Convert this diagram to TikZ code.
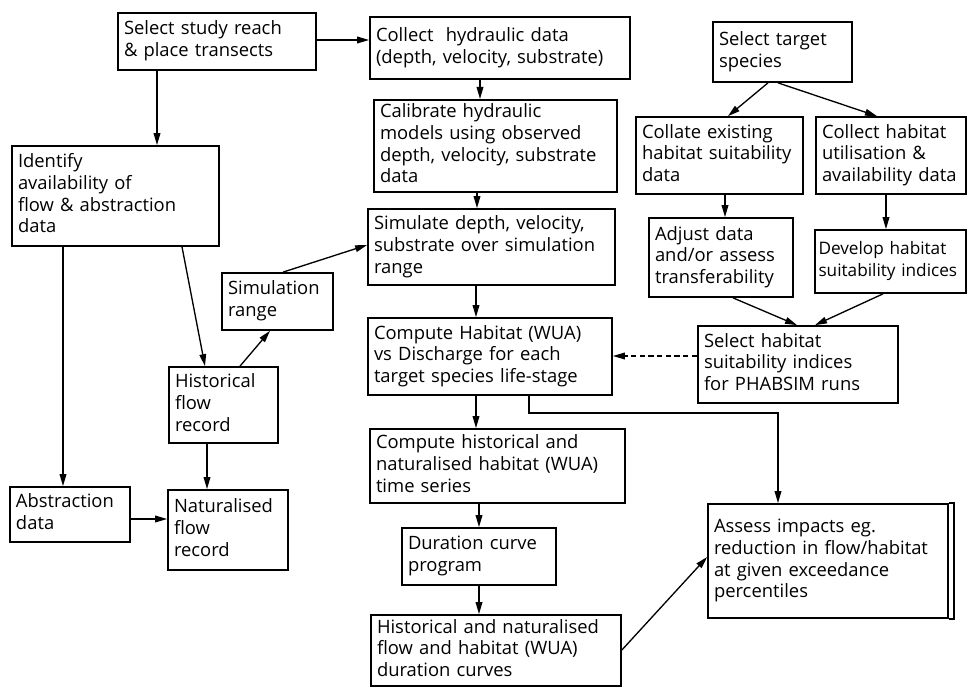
\documentclass[tikz,border=0pt]{standalone}
\usepackage{fontspec}
\setmainfont{Open Sans}
\usetikzlibrary{arrows.meta}
\newcommand\mybox[6]{%
  \pgfmathsetlengthmacro\mytw{(#4-#2)*0.75pt-9pt}%
  \node[box, text width=\mytw, minimum width={(#4-#2)*0.75pt}, minimum height={(#5-#3)*0.75pt}] (#1) at ({(#2+#4)/2},{(#3+#5)/2}) {\begin{tabular}{@{}l@{}}#6\end{tabular}};}
\begin{document}
\begin{tikzpicture}[x=0.75pt,y=-0.75pt,
  box/.style={draw, line width=1.3pt, inner xsep=4.5pt, inner ysep=2pt, align=left,
    font=\fontsize{13.8}{16.3}\selectfont},
  arr/.style={-{Triangle[length=9pt,width=5pt]}, line width=1pt}]
\useasboundingbox (0,0) rectangle (968,688);
% central column
\mybox{study}{118}{13}{316}{70}{Select study reach\\\& place transects}
\mybox{collect}{370}{17}{630}{79}{Collect\ \ hydraulic data\\(depth, velocity, substrate)}
\mybox{calib}{374}{100}{617}{192}{Calibrate hydraulic\\models using observed\\depth, velocity, substrate\\data}
\mybox{simul}{368}{209}{615}{285}{Simulate depth, velocity,\\substrate over simulation\\range}
\mybox{wua}{368}{318}{612}{395}{Compute Habitat (WUA)\\vs Discharge for each\\target species life-stage}
\mybox{comphist}{370}{429}{625}{503}{Compute historical and\\naturalised habitat (WUA)\\time series}
\mybox{duration}{402}{528}{556}{585}{Duration curve\\program}
\mybox{histdur}{371}{615}{621}{686}{Historical and naturalised\\flow and habitat (WUA)\\duration curves}
\mybox{assess}{708}{504}{948}{618}{Assess impacts eg.\\reduction in flow/habitat\\at given exceedance\\percentiles}
\draw[line width=1.3pt] (assess.north east) -- ([xshift=3.75pt]assess.north east) -- ([xshift=3.75pt]assess.south east) -- (assess.south east);
% right column
\mybox{target}{713}{22}{852}{82}{Select target\\species}
\mybox{collate}{636}{117}{803}{194}{Collate existing\\habitat suitability\\data}
\mybox{collhab}{816}{117}{966}{194}{Collect habitat\\utilisation \&\\availability data}
\mybox{adjust}{649}{218}{793}{297}{Adjust data\\and/or assess\\transferability}
\node[box, inner xsep=2.5pt, text width=108pt, minimum width=113.25pt, minimum height=47.25pt,
  font=\fontsize{12.9}{16.3}\selectfont] (develop) at (890.5,261.5)
  {\begin{tabular}{@{}l@{}}Develop habitat\\suitability indices\end{tabular}};
\mybox{selhab}{698}{326}{898}{403}{Select habitat\\suitability indices\\for PHABSIM runs}
% left column
\mybox{identify}{12}{146}{219}{246}{Identify\\availability of\\flow \& abstraction\\data}
\mybox{simrange}{222}{273}{333}{330}{Simulation\\range}
\mybox{histflow}{169}{367}{278}{443}{Historical\\flow\\record}
\mybox{abstr}{10}{487}{130}{542}{Abstraction\\data}
\mybox{natflow}{168}{490}{288}{570}{Naturalised\\flow\\record}
% connectors
\draw[arr] (157,0 |- study.south) -- (157,0 |- identify.north);
\draw[arr] (study.east |- 0,40) -- (collect.west |- 0,40);
\draw[arr] (480,0 |- collect.south) -- (480,0 |- calib.north);
\draw[arr] (477,0 |- calib.south) -- (477,0 |- simul.north);
\draw[arr] (476,0 |- simul.south) -- (476,0 |- wua.north);
\draw[arr] (476,0 |- wua.south) -- (476,0 |- comphist.north);
\draw[arr] (479,0 |- comphist.south) -- (479,0 |- duration.north);
\draw[arr] (479,0 |- duration.south) -- (479,0 |- histdur.north);
\draw[arr] (histdur.east |- 0,650) -- (assess.west |- 0,557);
\draw[arr] (529,0 |- wua.south) -- (529,413) -- (778,413) -- (778,0 |- assess.north);
\draw[arr] (768,0 |- target.south) -- (728,0 |- collate.north);
\draw[arr] (778,0 |- target.south) -- (877,0 |- collhab.north);
\draw[arr] (725,0 |- collate.south) -- (725,0 |- adjust.north);
\draw[arr] (886,0 |- collhab.south) -- (886,0 |- develop.north);
\draw[arr] (733,0 |- adjust.south) -- (797,0 |- selhab.north);
\draw[arr] (883,0 |- develop.south) -- (815,0 |- selhab.north);
\draw[arr,dash pattern=on 4pt off 2.5pt] (selhab.west |- 0,356) -- (wua.east |- 0,356);
\draw[arr] (63,0 |- identify.south) -- (63,0 |- abstr.north);
\draw[arr] (182,0 |- identify.south) -- (205,0 |- histflow.north);
\draw[arr] (240,0 |- histflow.north) -- (270,0 |- simrange.south);
\draw[arr] (283,0 |- simrange.north) -- (simul.west |- 0,245);
\draw[arr] (207,0 |- histflow.south) -- (207,0 |- natflow.north);
\draw[arr] (abstr.east |- 0,519) -- (natflow.west |- 0,519);
\end{tikzpicture}
\end{document}
